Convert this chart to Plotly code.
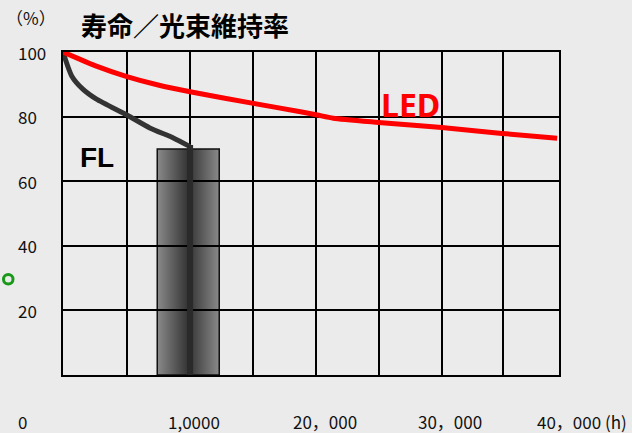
import plotly.graph_objects as go

# ---- data ----
grid_hours = [0, 5150, 10250, 15300, 20400, 25500, 30600, 35450, 40000]
y_ticks = [100, 80, 60, 40, 20]
y_tick_labels = ["100", "80", "60", "40", "20"]

led_hours = [0, 2580, 5150, 7670, 10250, 15350, 19150, 20500, 21800, 25450, 30550, 35400, 39850]
led_pct = [100, 95.8, 92.4, 89.8, 87.7, 84.1, 81.5, 80.5, 79.5, 78.2, 76.6, 74.8, 73.3]

fl_hours = [0, 700, 1600, 2700, 5150, 7000, 8900, 10250]
fl_pct = [100, 92.6, 88.5, 85.4, 80.5, 76.5, 73.4, 70.7]
fl_life_hours = 10250

bar_center = 10100
bar_width = 5000
bar_value = 70

x_labels = ["1,0000", "20，000", "30，000"]
x_label_px = [194, 325, 450]

# ---- layout geometry ----
W, H = 632, 433
ML, MR, MT, MB = 63, 73, 52, 58
PW, PH = W - ML - MR, H - MT - MB


def px(xp):
    return (xp - ML) / PW


def py(yp):
    return (H - MB - yp) / PH


BG = "#EBEBEB"
JP = "Noto Sans CJK JP"

fig = go.Figure()

# bar (subplot underneath the grid)
bx0, bx1 = bar_center - bar_width / 2, bar_center + bar_width / 2
fig.add_trace(go.Scatter(
    x=[bx0, bx0, bx1, bx1, bx0], y=[0, bar_value, bar_value, 0, 0],
    mode="lines", fill="toself",
    fillgradient=dict(type="horizontal",
                      colorscale=[[0, "#8a8a8a"], [0.5, "#333333"], [1, "#8a8a8a"]]),
    line=dict(color="#111111", width=1.5),
    xaxis="x", yaxis="y", hoverinfo="skip"))

# FL curve
fig.add_trace(go.Scatter(
    x=fl_hours, y=fl_pct, mode="lines",
    line=dict(color="#333333", width=5, shape="spline", smoothing=0.6),
    xaxis="x2", yaxis="y2", hoverinfo="skip"))
fig.add_trace(go.Scatter(
    x=[fl_life_hours, fl_life_hours], y=[fl_pct[-1] + 0.5, 0], mode="lines",
    line=dict(color="#2a2a2a", width=6),
    xaxis="x2", yaxis="y2", hoverinfo="skip"))

# LED curve
fig.add_trace(go.Scatter(
    x=led_hours, y=led_pct, mode="lines",
    line=dict(color="#FF0000", width=5, shape="spline", smoothing=0.6),
    xaxis="x2", yaxis="y2", hoverinfo="skip"))

xr = [0, 40000]
yr = [0, 100]
fig.update_layout(
    width=W, height=H,
    margin=dict(l=ML, r=MR, t=MT, b=MB),
    paper_bgcolor=BG, plot_bgcolor="rgba(0,0,0,0)",
    showlegend=False, hovermode=False,
    xaxis=dict(domain=[0, 1], range=xr, visible=False, anchor="y"),
    yaxis=dict(domain=[0, 1], range=yr, visible=False, anchor="x"),
    xaxis2=dict(domain=[0, 1], range=xr, anchor="y2", tickmode="array", tickvals=grid_hours,
                showticklabels=False, ticks="", showgrid=True, gridcolor="#000000", gridwidth=2,
                zeroline=True, zerolinecolor="#000000", zerolinewidth=2,
                showline=True, linecolor="#000000", linewidth=2, mirror=True),
    yaxis2=dict(domain=[0, 1], range=yr, anchor="x2", tickmode="array", tickvals=[0] + y_ticks,
                showticklabels=False, ticks="", showgrid=True, gridcolor="#000000", gridwidth=2,
                zeroline=True, zerolinecolor="#000000", zerolinewidth=3,
                showline=True, linecolor="#000000", linewidth=2, mirror=True),
)

# small green ring at the left margin
fig.add_shape(type="circle", xref="paper", yref="paper",
              x0=px(3.5), x1=px(13), y0=py(284), y1=py(274.5),
              line=dict(color="#189a18", width=3), fillcolor="rgba(0,0,0,0)")

ann = []
# title and unit
ann.append(dict(text="<b>寿命／光束維持率</b>", x=px(185), y=py(25), xref="paper", yref="paper",
                xanchor="center", yanchor="middle", showarrow=False,
                font=dict(family=JP, size=26, color="#000000")))
ann.append(dict(text="（%）", x=px(31), y=py(18), xref="paper", yref="paper",
                xanchor="center", yanchor="middle", showarrow=False,
                font=dict(family=JP, size=17, color="#111111")))
# y labels
for v, t in zip(y_ticks, y_tick_labels):
    ann.append(dict(text=t, x=px(16), y=v, xref="paper", yref="y2",
                    xanchor="left", yanchor="middle", showarrow=False,
                    font=dict(family=JP, size=17, color="#111111")))
ann.append(dict(text="0", x=px(16), y=py(422), xref="paper", yref="paper",
                xanchor="left", yanchor="middle", showarrow=False,
                font=dict(family=JP, size=17, color="#111111")))
# x labels
for t, xp in zip(x_labels, x_label_px):
    ann.append(dict(text=t, x=px(xp), y=py(422), xref="paper", yref="paper",
                    xanchor="center", yanchor="middle", showarrow=False,
                    font=dict(family=JP, size=17, color="#111111")))
ann.append(dict(text="40，000 (h)", x=px(535), y=py(422), xref="paper", yref="paper",
                xanchor="left", yanchor="middle", showarrow=False,
                font=dict(family=JP, size=17, color="#111111")))
# series labels
ann.append(dict(text="<b>FL</b>", x=px(97), y=py(157), xref="paper", yref="paper",
                xanchor="center", yanchor="middle", showarrow=False,
                font=dict(family="Liberation Sans", size=28, color="#000000")))
ann.append(dict(text="<b>LED</b>", x=px(410), y=py(104), xref="paper", yref="paper",
                xanchor="center", yanchor="middle", showarrow=False,
                font=dict(family="Noto Sans", size=32, color="#FF0000")))
fig.update_layout(annotations=ann)

fig.write_html("out.html", config={"displayModeBar": False},
               post_script="document.body.style.margin='0';document.body.style.background='%s';" % BG)
